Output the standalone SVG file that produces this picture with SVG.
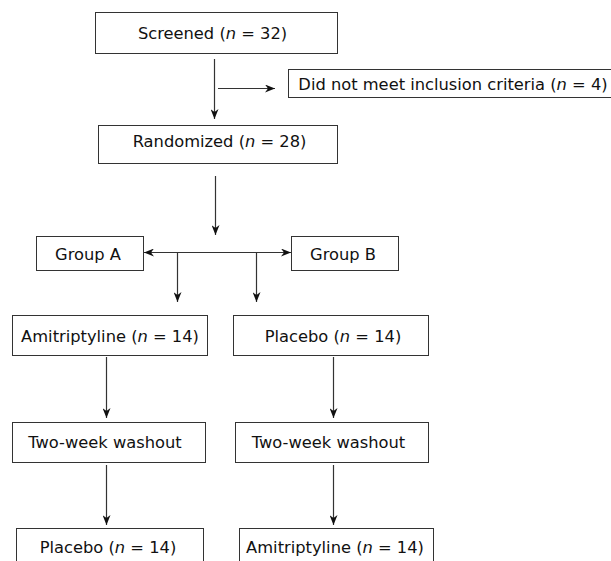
<svg xmlns="http://www.w3.org/2000/svg" width="611" height="561" viewBox="0 0 611 561">
<style>
rect{fill:#fff;stroke:#333;stroke-width:1}
text{font-family:"DejaVu Sans","Liberation Sans",sans-serif;font-size:16.3px;fill:#111;text-anchor:middle}
.c line{stroke:#333;stroke-width:1.2;fill:none}
</style>
<defs>
<marker id="ah" viewBox="0 0 10 8" refX="10" refY="4" markerWidth="10" markerHeight="8" markerUnits="userSpaceOnUse" orient="auto-start-reverse">
<path d="M0,0 L10,4 L0,8 L3,4 z" fill="#111"/>
</marker>
</defs>
<rect width="611" height="561" style="fill:#fff;stroke:none"/>
<g id="screened"><rect x="95.5" y="12.5" width="242" height="41"/><text x="212.5" y="39">Screened (<tspan font-style="italic">n</tspan> = 32)</text></g>
<g id="excluded"><rect x="288.5" y="69.5" width="340" height="28"/><text x="453" y="90">Did not meet inclusion criteria (<tspan font-style="italic">n</tspan> = 4)</text></g>
<g id="randomized"><rect x="98.5" y="125.5" width="239" height="38"/><text x="219.5" y="147">Randomized (<tspan font-style="italic">n</tspan> = 28)</text></g>
<g id="groupA"><rect x="36.5" y="236.5" width="107" height="34"/><text x="88" y="260">Group A</text></g>
<g id="groupB"><rect x="291.5" y="236.5" width="107" height="34"/><text x="343" y="260">Group B</text></g>
<g id="amiA"><rect x="12.5" y="315.5" width="195" height="40"/><text x="110" y="342">Amitriptyline (<tspan font-style="italic">n</tspan> = 14)</text></g>
<g id="plaB"><rect x="233.5" y="315.5" width="195" height="40"/><text x="333" y="342">Placebo (<tspan font-style="italic">n</tspan> = 14)</text></g>
<g id="washA"><rect x="12.5" y="422.5" width="193" height="40"/><text x="105" y="448">Two-week washout</text></g>
<g id="washB"><rect x="235.5" y="422.5" width="193" height="40"/><text x="328.5" y="448">Two-week washout</text></g>
<g id="plaA"><rect x="16.5" y="528.5" width="187" height="45"/><text x="108" y="553">Placebo (<tspan font-style="italic">n</tspan> = 14)</text></g>
<g id="amiB"><rect x="239.5" y="528.5" width="194" height="45"/><text x="335" y="553">Amitriptyline (<tspan font-style="italic">n</tspan> = 14)</text></g>
<g id="connectors" class="c">
<line x1="214.5" y1="59" x2="214.5" y2="119" marker-end="url(#ah)"/>
<line x1="218" y1="88.5" x2="275" y2="88.5" marker-end="url(#ah)"/>
<line x1="215.5" y1="176" x2="215.5" y2="235" marker-end="url(#ah)"/>
<line x1="144" y1="252.5" x2="291" y2="252.5" marker-start="url(#ah)" marker-end="url(#ah)"/>
<line x1="177.5" y1="252" x2="177.5" y2="302" marker-end="url(#ah)"/>
<line x1="256.5" y1="252" x2="256.5" y2="302" marker-end="url(#ah)"/>
<line x1="106.5" y1="357" x2="106.5" y2="418" marker-end="url(#ah)"/>
<line x1="333.5" y1="357" x2="333.5" y2="418" marker-end="url(#ah)"/>
<line x1="106.5" y1="465" x2="106.5" y2="525" marker-end="url(#ah)"/>
<line x1="333.5" y1="465" x2="333.5" y2="525" marker-end="url(#ah)"/>
</g>
</svg>
